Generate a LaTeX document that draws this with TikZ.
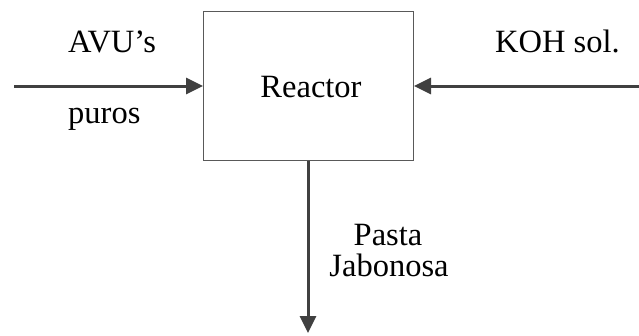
\documentclass[tikz,border=0pt]{standalone}
\usepackage{fontspec}
\setmainfont{Liberation Serif}
\usetikzlibrary{arrows.meta}
\begin{document}
\begin{tikzpicture}[x=1pt, y=-1pt,
			every node/.style={font=\fontsize{32.5}{38}\selectfont, inner sep=0pt},
			block/.style={draw=black!65, line width=1pt, minimum width=210pt, minimum height=149pt},
			arrow/.style={-{Triangle[length=17pt,width=16pt]}, draw=black!75, line width=3pt}
			]
			\useasboundingbox (0,0) rectangle (639,335);
			
			% Nodes
			\node[block] (reactor) at (308.5,85.5) {};
			\node[anchor=base] (rlabel) at (311,97) {Reactor};
			\node[anchor=base west] (avu) at (68,52) {AVU’s};
			\node[anchor=base west] (puros) at (68,123) {puros};
			\node[anchor=base west] (koh) at (495,52) {KOH sol.};
			\node[anchor=base] (pasta) at (388,245) {Pasta};
			\node[anchor=base] (jabon) at (389,276) {Jabonosa};
			
			% Free ends
			\coordinate (in1) at (14,86);
			\coordinate (in2) at (639,86);
			\coordinate (out) at (308,333);
			
			% Streams
			\draw[arrow] (in1) -- (reactor.west |- in1);
			\draw[arrow] (in2) -- (reactor.east |- in2);
			\draw[arrow] (reactor.south -| out) -- (out);
		\end{tikzpicture}
\end{document}
